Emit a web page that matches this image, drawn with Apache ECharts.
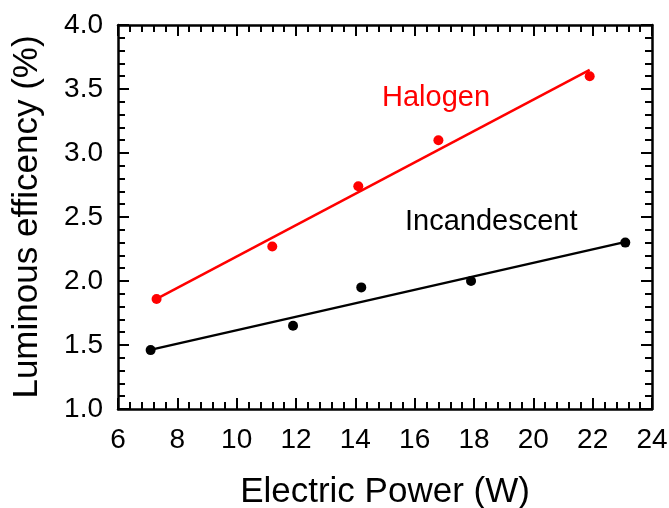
<!DOCTYPE html>
<html>
<head>
<meta charset="utf-8">
<script src="https://cdn.jsdelivr.net/npm/echarts@6/dist/echarts.min.js"></script>
<style>
  html, body { margin: 0; padding: 0; background: #fff; }
  #chart { width: 669px; height: 508px; }
</style>
</head>
<body>
<div id="chart"></div>
<script>
// measured points
const halogenPower = [7.3, 11.2, 14.1, 16.8, 21.9];
const halogenEff = [1.86, 2.27, 2.74, 3.10, 3.60];
const incPower = [7.1, 11.9, 14.2, 17.9, 23.1];
const incEff = [1.46, 1.65, 1.95, 2.00, 2.30];

// fit lines (end points)
const halogenFitX = [7.3, 21.9];
const halogenFitY = [1.86, 3.65];
const incFitX = [7.05, 23.0];
const incFitY = [1.46, 2.30];

const font = "'Liberation Sans', Arial, sans-serif";
const zip = (xs, ys) => xs.map((x, i) => [x, ys[i]]);

const tickStyle = { color: '#000', width: 2 };
function xAx(pos, labels) {
  return {
    type: 'value', position: pos, min: 6, max: 24, interval: 2,
    axisLine: { show: true, onZero: false, lineStyle: { color: '#000', width: 2.5 } },
    axisTick: { show: true, inside: true, length: 11, lineStyle: tickStyle },
    minorTick: { show: true, splitNumber: 5, length: 7, lineStyle: tickStyle },
    splitLine: { show: false },
    axisLabel: { show: labels, color: '#000', fontFamily: font, fontSize: 28, margin: 17 },
    name: labels ? 'Electric Power (W)' : '',
    nameLocation: 'middle', nameGap: 66,
    nameTextStyle: { color: '#000', fontFamily: font, fontSize: 35 }
  };
}
function yAx(pos, labels) {
  return {
    type: 'value', position: pos, min: 1, max: 4, interval: 0.5,
    axisLine: { show: true, onZero: false, lineStyle: { color: '#000', width: 2.5 } },
    axisTick: { show: true, inside: true, length: 11, lineStyle: tickStyle },
    minorTick: { show: true, splitNumber: 5, length: 7, lineStyle: tickStyle },
    splitLine: { show: false },
    axisLabel: { show: labels, color: '#000', fontFamily: font, fontSize: 28, margin: 15,
      formatter: v => v.toFixed(1) },
    name: labels ? 'Luminous efficency (%)' : '',
    nameLocation: 'middle', nameGap: 73,
    nameTextStyle: { color: '#000', fontFamily: font, fontSize: 35 }
  };
}

const chart = echarts.init(document.getElementById('chart'));
chart.setOption({
  animation: false,
  grid: { left: 118, right: 17, top: 25, bottom: 99, outerBoundsMode: 'none', containLabel: false },
  xAxis: [xAx('bottom', true), xAx('top', false)],
  yAxis: [yAx('left', true), yAx('right', false)],
  graphic: [
    { type: 'text', left: 382, top: 83,
      style: { text: 'Halogen', fill: '#ff0000', font: '29px ' + font } },
    { type: 'text', left: 405, top: 207,
      style: { text: 'Incandescent', fill: '#000', font: '29px ' + font } }
  ],
  series: [
    { type: 'line', data: zip(halogenFitX, halogenFitY), symbol: 'none',
      lineStyle: { color: '#ff0000', width: 2.5 } },
    { type: 'line', data: zip(incFitX, incFitY), symbol: 'none',
      lineStyle: { color: '#000', width: 2.5 } },
    { type: 'scatter', data: zip(halogenPower, halogenEff), symbolSize: 10,
      itemStyle: { color: '#ff0000', opacity: 1 } },
    { type: 'scatter', data: zip(incPower, incEff), symbolSize: 10,
      itemStyle: { color: '#000', opacity: 1 } }
  ]
});
</script>
</body>
</html>
